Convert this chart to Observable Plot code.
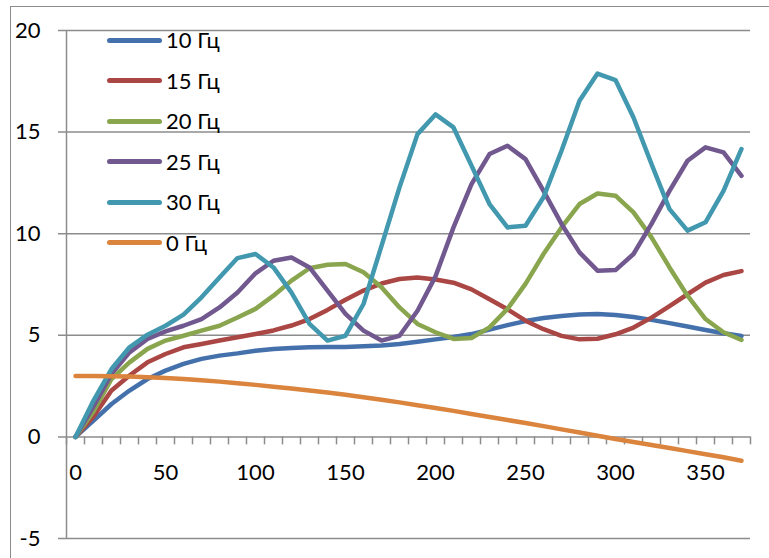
<!DOCTYPE html>
<html>
<head>
<meta charset="utf-8">
<script src="https://cdn.jsdelivr.net/npm/d3@7"></script>
<script src="https://cdn.jsdelivr.net/npm/@observablehq/plot@0.6"></script>
<style>
  html, body { margin: 0; padding: 0; background: #fff; }
  #wrap { position: relative; width: 769px; height: 558px; overflow: hidden; font-family: Lato, "Open Sans", sans-serif; }
  #frame { position: absolute; left: 10px; top: 6px; width: 800px; height: 600px; border: 1.5px solid #8c8c8c; box-sizing: border-box; }
  #chart { position: absolute; left: 0; top: 0; }
  #legend { position: absolute; left: 107px; top: 20px; }
  .item { display: flex; align-items: center; height: 40.5px; }
  .swatch { width: 55px; height: 5px; border-radius: 3px; margin-right: 4px; }
  .lab { font-size: 22px; color: #000; line-height: 1; }
</style>
</head>
<body>
<div id="wrap">
  <div id="frame"></div>
  <div id="chart"></div>
  <div id="legend"></div>
</div>
<script>
const xs = [0,10,20,30,40,50,60,70,80,90,100,110,120,130,140,150,160,170,180,190,200,210,220,230,240,250,260,270,280,290,300,310,320,330,340,350,360,370];

const seriesNames = ["10 Гц", "15 Гц", "20 Гц", "25 Гц", "30 Гц", "0 Гц"];
const seriesColors = ["#4471AB", "#AA4643", "#89A54E", "#71588F", "#4198AF", "#DB843D"];

const s10 = [0,0.8,1.62,2.28,2.85,3.26,3.59,3.84,4.0,4.11,4.24,4.33,4.38,4.41,4.42,4.43,4.46,4.5,4.57,4.68,4.8,4.92,5.06,5.28,5.5,5.7,5.85,5.95,6.02,6.05,6.0,5.9,5.76,5.6,5.43,5.26,5.1,4.97];
const s15 = [0,1.0,2.28,3.02,3.67,4.08,4.41,4.57,4.74,4.9,5.06,5.24,5.48,5.8,6.25,6.75,7.2,7.55,7.77,7.84,7.75,7.59,7.26,6.77,6.28,5.72,5.3,4.97,4.8,4.83,5.05,5.38,5.87,6.44,7.02,7.59,7.97,8.16];
const s20 = [0,1.25,2.85,3.67,4.33,4.74,4.98,5.23,5.47,5.88,6.3,6.95,7.69,8.3,8.47,8.51,8.1,7.36,6.37,5.56,5.15,4.82,4.87,5.39,6.3,7.53,9.0,10.31,11.46,11.98,11.87,11.05,9.82,8.34,6.95,5.8,5.15,4.77];
const s25 = [0,1.5,3.1,4.16,4.82,5.19,5.47,5.8,6.37,7.11,8.05,8.67,8.83,8.34,7.2,6.05,5.23,4.74,4.98,6.21,7.9,10.31,12.44,13.92,14.33,13.67,12.11,10.48,9.08,8.18,8.21,9.0,10.48,12.11,13.59,14.25,14.0,12.85];
const s30 = [0,1.79,3.34,4.41,5.03,5.47,6.02,6.87,7.85,8.8,9.0,8.34,7.1,5.56,4.74,4.98,6.54,9.4,12.28,14.9,15.87,15.23,13.35,11.46,10.31,10.39,11.79,14.08,16.54,17.88,17.56,15.72,13.43,11.21,10.15,10.56,12.11,14.17];
const s0 = [3.0,3.0,2.99,2.97,2.94,2.9,2.85,2.79,2.72,2.64,2.56,2.47,2.38,2.28,2.18,2.07,1.95,1.83,1.7,1.56,1.42,1.28,1.13,0.98,0.83,0.68,0.53,0.37,0.22,0.06,-0.1,-0.25,-0.4,-0.55,-0.7,-0.85,-1.0,-1.17];

const yTicks = [-5, 0, 5, 10, 15, 20];
const xLabels = [0, 50, 100, 150, 200, 250, 300, 350];
const xTickMarks = d3.range(-5, 376, 10);

const allSeries = [s10, s15, s20, s25, s30, s0];
const rows = [];
allSeries.forEach((vals, i) => vals.forEach((v, j) => rows.push({x: xs[j], y: v, s: seriesNames[i]})));

const chart = Plot.plot({
  width: 769,
  height: 558,
  marginLeft: 66,
  marginRight: 19,
  marginTop: 30,
  marginBottom: 20,
  x: {type: "linear", domain: [-5, 375], axis: null},
  y: {type: "linear", domain: [-5, 20], axis: null},
  color: {domain: seriesNames, range: seriesColors},
  style: {fontFamily: "Lato, 'Open Sans', sans-serif", background: "transparent", overflow: "visible"},
  marks: [
    Plot.ruleY(yTicks, {y: d => d, stroke: "#8c8c8c", strokeWidth: 1.5, insetLeft: -8}),
    Plot.ruleX([-5], {x: d => d, stroke: "#8c8c8c", strokeWidth: 1.5}),
    Plot.ruleX(xTickMarks, {x: d => d, y1: 0, y2: 0, insetBottom: -8, stroke: "#8c8c8c", strokeWidth: 1.5}),
    Plot.text(yTicks, {x: -5, y: d => d, text: d => String(d), textAnchor: "end", dx: -26, fontSize: 22, fill: "#000"}),
    Plot.text(xLabels, {x: d => d, y: 0, text: d => String(d), dy: 36, fontSize: 22, fill: "#000"}),
    Plot.line(rows, {x: "x", y: "y", z: "s", stroke: "s", strokeWidth: 4.5, strokeLinejoin: "round", strokeLinecap: "round"})
  ]
});
document.getElementById("chart").appendChild(chart);

const legend = document.getElementById("legend");
seriesNames.forEach((n, i) => {
  const item = document.createElement("div");
  item.className = "item";
  const sw = document.createElement("div");
  sw.className = "swatch";
  sw.style.background = seriesColors[i];
  const lab = document.createElement("span");
  lab.className = "lab";
  lab.textContent = n;
  item.appendChild(sw);
  item.appendChild(lab);
  legend.appendChild(item);
});
</script>
</body>
</html>
